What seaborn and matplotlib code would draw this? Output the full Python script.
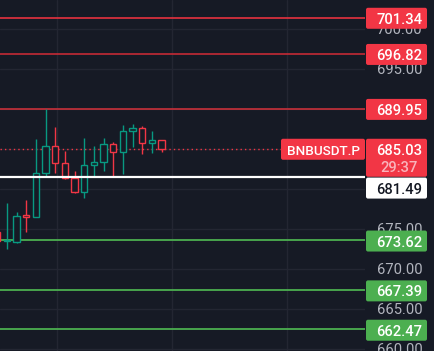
import numpy as np
import matplotlib
matplotlib.use("Agg")
import matplotlib.pyplot as plt
from matplotlib.patches import FancyBboxPatch
from matplotlib.transforms import IdentityTransform
import seaborn as sns

# Dữ liệu nến (5 phút)
opens = [674.6, 673.5, 673.4, 676.7, 676.5, 682.0, 685.4, 683.25, 681.4, 679.6,
         683.0, 683.4, 685.6, 684.6, 687.25, 687.6, 685.75, 686.1]
closes = [673.5, 673.6, 676.6, 676.5, 682.0, 685.4, 683.25, 681.4, 679.6, 683.0,
          683.4, 685.6, 684.6, 687.25, 687.6, 685.75, 686.1, 685.03]
highs = [675.5, 678.25, 677.1, 678.6, 686.25, 690.0, 687.75, 684.75, 682.25, 686.4,
         685.4, 686.4, 685.9, 688.0, 688.1, 687.9, 687.25, 686.1]
lows = [672.8, 672.5, 673.25, 674.6, 676.5, 681.5, 682.0, 681.25, 679.5, 678.9,
        681.5, 682.25, 681.6, 681.9, 685.25, 684.4, 684.5, 684.6]

# Các mức kháng cự / hỗ trợ
resistance = [701.34, 696.82, 689.95]
support = [673.62, 667.39, 662.47]
mark_level = 681.49
last_price = 685.03
timer = "29:37"
symbol = "BNBUSDT.P"
price_ticks = [660, 665, 670, 675, 680, 685, 690, 695, 700]

BG = "#161a25"
GRID = "#232632"
UP = "#089981"
DOWN = "#f23645"
W, H = 434, 351

sns.set_theme(style="dark", rc={
    "axes.facecolor": BG, "figure.facecolor": BG, "savefig.facecolor": BG,
    "grid.color": GRID, "axes.edgecolor": BG,
})
plt.rcParams["font.family"] = ["Roboto", "DejaVu Sans"]

fig = plt.figure(figsize=(W / 100, H / 100), dpi=100)
ax = fig.add_axes([0, 0, 365 / W, 1])

x = np.arange(len(opens))
o = np.array(opens)
c = np.array(closes)
colors = [UP if cc >= oo else DOWN for oo, cc in zip(o, c)]
top = np.maximum(o, c)
bot = np.minimum(o, c)

# Nến rỗng: thân chỉ có viền, bóng nến không đi qua thân
ax.vlines(x, top, highs, colors=colors, lw=1.0, zorder=3)
ax.vlines(x, lows, bot, colors=colors, lw=1.0, zorder=3)
ax.bar(x, top - bot, bottom=bot, width=0.65, facecolor=BG, edgecolor=colors,
       linewidth=1.0, zorder=4)

# Đường giá
reds = ["#e5323f", "#c42a35", "#c8303a"]
for v, col in zip(resistance, reds):
    ax.axhline(v, color=col, lw=1.2, zorder=2)
for v in support:
    ax.axhline(v, color="#4caf50", lw=1.3, zorder=2)
ax.axhline(mark_level, color="white", lw=1.6, zorder=5)
ax.axhline(last_price, color=DOWN, lw=1.0, ls=(0, (1, 2.2)), zorder=2)

ax.set_xlim(0.28, 38.06)
ax.set_ylim(659.75, 703.625)
ax.set_xticks(np.arange(6.15, 38, 11.93))
ax.set_yticks(price_ticks)
ax.grid(True, color=GRID, lw=1.0)
ax.set_axisbelow(True)
ax.yaxis.tick_right()
ax.set_yticklabels([f"{t:.2f}" for t in price_ticks])
ax.tick_params(axis="y", length=0, pad=8.6, labelsize=10.6, labelcolor="#b2b5be")
ax.tick_params(axis="x", length=0, labelbottom=False)
for s in ax.spines.values():
    s.set_visible(False)

fig.canvas.draw()


def to_px(v):
    return H - ax.transData.transform((1, v))[1]


def box(x0, y0, x1, y1, color):
    fig.add_artist(FancyBboxPatch((x0, H - y1), x1 - x0, y1 - y0,
                                  boxstyle="round,pad=0,rounding_size=2",
                                  transform=IdentityTransform(),
                                  facecolor=color, edgecolor="none", zorder=5))


def label(xc, yc, s, color="white", size=10.6):
    fig.text(xc / W, 1 - yc / H, s, color=color, fontsize=size, fontweight="medium",
             ha="center", va="center_baseline", zorder=6)


BX0, BX1 = 366, 427
for v in resistance:
    yc = to_px(v)
    box(BX0, yc - 10.5, BX1, yc + 10.5, DOWN)
    label(399.5, yc, f"{v:.2f}")
for v in support:
    yc = to_px(v) + 1
    box(BX0, yc - 10.5, BX1, yc + 10.5, "#4caf50")
    label(399.5, yc, f"{v:.2f}")

# Nhãn giá hiện tại + thời gian còn lại
yc = to_px(last_price)
box(BX0, yc - 10, BX1, yc + 28, DOWN)
label(399.5, yc + 1, f"{last_price:.2f}")
label(399.5, yc + 18, timer, color="#f9b4bb")
box(281, yc - 10, 365, yc + 11, DOWN)
label(323, yc + 1, symbol, size=9.7)

# Nhãn mark price bị đẩy xuống dưới
ym = to_px(mark_level) + 11
box(BX0, ym - 10.5, BX1, ym + 10.5, "white")
label(399.5, ym, f"{mark_level:.2f}", color="#131722")

fig.savefig("out.png", dpi=100)
